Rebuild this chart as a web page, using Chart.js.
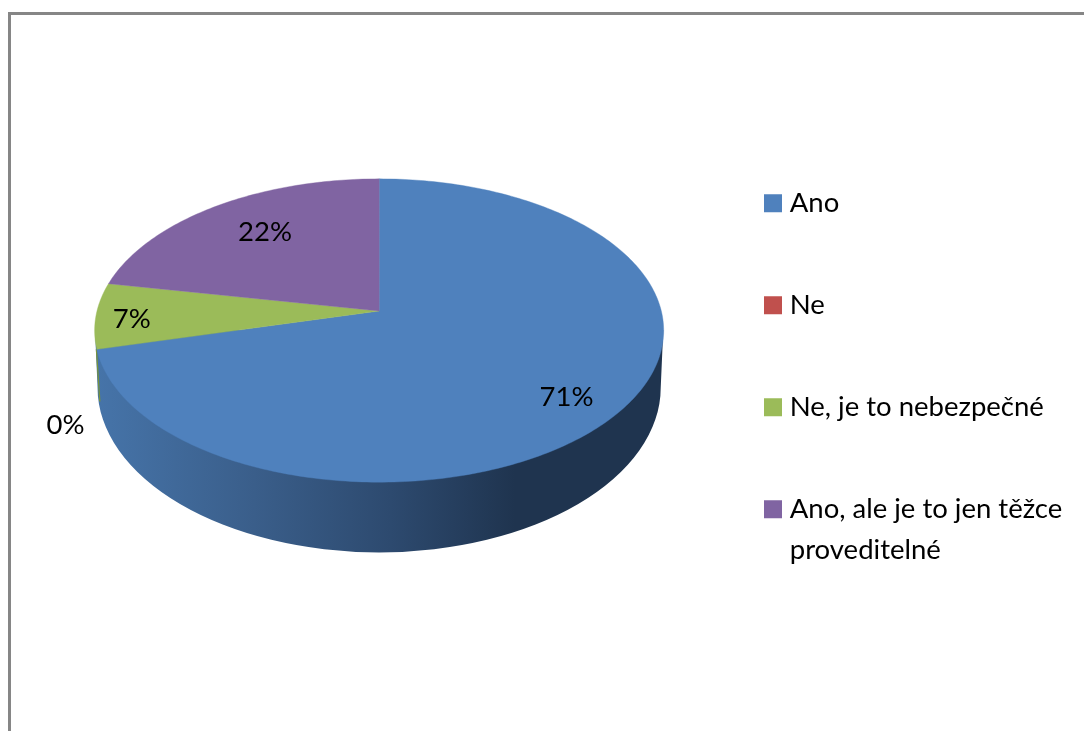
<!DOCTYPE html>
<html><head><meta charset="utf-8">
<style>html,body{margin:0;padding:0;background:#fff}#w{width:1084px;height:731px}canvas{display:block}</style>
<script src="https://cdn.jsdelivr.net/npm/chart.js@4"></script></head>
<body><div id="w"><canvas id="c" width="1084" height="731"></canvas></div>
<script>
const categories = ["Ano", "Ne", "Ne, je to nebezpečné", "Ano, ale je to jen těžce proveditelné"];
const legendLines = [["Ano"], ["Ne"], ["Ne, je to nebezpečné"], ["Ano, ale je to jen těžce", "proveditelné"]];
const values = [71, 0, 7, 22];
const colors = ["#4F81BD", "#C0504D", "#9BBB59", "#8064A2"];
// label anchor relative to the pie apex, in pie radii
const labelAnchors = [[0.662, 0.304], [-1.108, 0.403], [-0.874, 0.028], [-0.403, -0.280]];

const FLAT = 0.527, PERSP = -0.1287, WIDE = 0.997;
function project(el, a) {
  const u = Math.cos(a), v = Math.sin(a), w = 1 + PERSP * v;
  return [el.x + WIDE * el.outerRadius * u / w, el.y + el.outerRadius * FLAT * v / w];
}
const Arc = Chart.registry.getElement('arc');
Arc.prototype.draw = function (ctx) {
  if (this.endAngle - this.startAngle <= 0) return;
  const n = Math.max(8, Math.ceil((this.endAngle - this.startAngle) * 60));
  ctx.save();
  ctx.beginPath();
  ctx.moveTo(this.x, this.y);
  for (let i = 0; i <= n; i++) {
    const p = project(this, this.startAngle + (this.endAngle - this.startAngle) * i / n);
    ctx.lineTo(p[0], p[1]);
  }
  ctx.closePath();
  ctx.fillStyle = this.options.backgroundColor;
  ctx.strokeStyle = this.options.backgroundColor;
  ctx.lineWidth = 0.4;
  ctx.fill();
  ctx.stroke();
  ctx.restore();
};

const pie3d = {
  id: 'pie3d',
  afterLayout(chart) {
    const l = chart.legend;
    const dx = 770 - 74.5 - l.left, dy = 87;
    l.left += dx; l.right += dx; l.top += dy; l.bottom += dy;
  },
  beforeDraw(chart) {
    const c = chart.ctx;
    c.save();
    c.fillStyle = '#fff'; c.fillRect(0, 0, chart.width, chart.height);
    c.fillStyle = '#868686';
    c.fillRect(8, 12, chart.width - 8, 3);
    c.fillRect(8, 12, 3, chart.height - 12);
    c.restore();
  },
  beforeDatasetsDraw(chart) {
    const el = chart.getDatasetMeta(0).data[0], c = chart.ctx, r = el.outerRadius;
    const cy = el.y + 0.27 * r, rx = 0.995 * r, ry = 0.583 * r, topY = el.y + 0.067 * r;
    const g = c.createLinearGradient(el.x - r, 0, el.x + r, 0);
    g.addColorStop(0, '#4674a9');
    g.addColorStop(0.28, '#3a5e8a');
    g.addColorStop(0.52, '#2d4a6f');
    g.addColorStop(0.74, '#1f344f');
    g.addColorStop(1, '#1f344f');
    c.save();
    c.beginPath();
    c.moveTo(el.x + 1.004 * r, topY);
    c.lineTo(el.x + rx, cy);
    c.ellipse(el.x, cy, rx, ry, 0, 0, Math.PI);
    c.lineTo(el.x - 1.004 * r, topY);
    c.closePath();
    c.fillStyle = g;
    c.fill();
    // thin visible edge of the green slice wall on the far left
    c.beginPath();
    c.moveTo(el.x - 0.999 * r, el.y + 0.135 * r);
    c.lineTo(el.x - 0.987 * r, el.y + 0.32 * r);
    c.strokeStyle = '#77933c';
    c.lineWidth = 1.3;
    c.stroke();
    c.restore();
  },
  afterDatasetsDraw(chart) {
    const el = chart.getDatasetMeta(0).data[0], c = chart.ctx, r = el.outerRadius;
    c.save();
    c.font = '27.5px Lato';
    c.fillStyle = '#000';
    c.textAlign = 'center';
    c.textBaseline = 'middle';
    values.forEach((v, i) => {
      c.fillText(v + '%', el.x + labelAnchors[i][0] * r, el.y + labelAnchors[i][1] * r);
    });
    c.restore();
  }
};

new Chart(document.getElementById('c'), {
  type: 'pie',
  plugins: [pie3d],
  data: { labels: categories, datasets: [{ data: values, backgroundColor: colors, borderWidth: 0, hoverOffset: 0 }] },
  options: {
    responsive: false,
    animation: false,
    layout: { padding: { left: 51, top: 28, bottom: 137, right: 0 } },
    plugins: {
      tooltip: { enabled: false },
      legend: {
        position: 'right',
        align: 'start',
        maxWidth: 396,
        labels: {
          usePointStyle: true,
          boxWidth: 6, boxHeight: 18, padding: 74.5, color: '#000',
          font: { family: 'Lato', size: 27.5, lineHeight: 1.49 },
          generateLabels: () => legendLines.map((t, i) => ({ text: t.length > 1 ? t : t[0], fillStyle: colors[i], strokeStyle: colors[i], lineWidth: 0, hidden: false, index: i, pointStyle: 'rect' }))
        }
      }
    }
  }
});
</script></body></html>
